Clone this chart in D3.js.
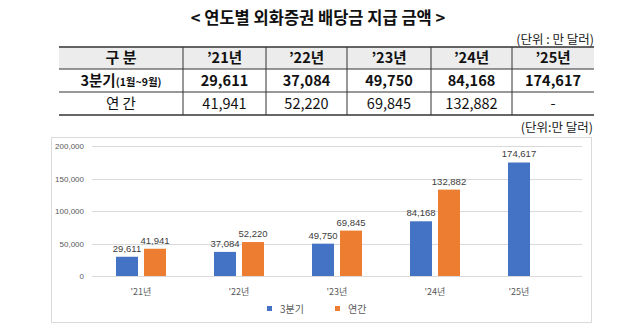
<!DOCTYPE html>
<html><head><meta charset="utf-8">
<script src="https://cdn.jsdelivr.net/npm/d3@7"></script>
<style>
html,body{margin:0;padding:0;background:#fff;}
svg{display:block;font-family:"Noto Sans CJK KR","Noto Sans",sans-serif;}
</style></head>
<body>
<script>
const title = "< 연도별 외화증권 배당금 지급 금액 >";
const unitTable = "(단위 : 만 달러)";
const unitChart = "(단위:만 달러)";
const tableHeader = ["구 분", "’21년", "’22년", "’23년", "’24년", "’25년"];
const categories = ["'21년", "'22년", "'23년", "'24년", "'25년"];
const seriesNames = ["3분기", "연간"];
const q3Values = [29611, 37084, 49750, 84168, 174617];
const annualValues = [41941, 52220, 69845, 132882, null];
const yTicks = [0, 50000, 100000, 150000, 200000];
const colors = ["#4472C4", "#ED7D31"];

const W = 640, H = 332;
const svg = d3.select("body").append("svg").attr("width", W).attr("height", H);
const fmt = d3.format(",");

// Title
svg.append("text").attr("x", 318).attr("y", 24).attr("text-anchor", "middle")
  .attr("font-size", 16.5).attr("font-weight", "bold").attr("fill", "#111").text(title);
svg.append("text").attr("x", 594).attr("y", 44).attr("text-anchor", "end")
  .attr("font-size", 12.5).attr("fill", "#222").text(unitTable);

// Table
const colX = [59, 183, 266, 347, 431, 512, 594];
const rowY = [47, 69, 92, 115];
const tbl = svg.append("g");
tbl.append("rect").attr("x", colX[0]).attr("y", rowY[0]).attr("width", colX[6]-colX[0])
  .attr("height", rowY[1]-rowY[0]).attr("fill", "#ececec");
rowY.forEach((y, i) => {
  tbl.append("line").attr("x1", colX[0]).attr("x2", colX[6]).attr("y1", y).attr("y2", y)
    .attr("stroke", "#333").attr("stroke-width", (i === 0 || i === 3) ? 1.6 : 1);
});
colX.slice(1, 6).forEach(x => {
  tbl.append("line").attr("x1", x).attr("x2", x).attr("y1", rowY[0]).attr("y2", rowY[3])
    .attr("stroke", "#333").attr("stroke-width", 1);
});
const cx = i => (colX[i] + colX[i+1]) / 2;
const cy = r => (rowY[r] + rowY[r+1]) / 2 + 5;
tableHeader.forEach((t, i) => {
  tbl.append("text").attr("x", cx(i)).attr("y", cy(0)).attr("text-anchor", "middle")
    .attr("font-size", i === 0 ? 15 : 14.5).attr("font-weight", "bold").attr("fill", "#111").text(t);
});
const r1 = tbl.append("text").attr("x", cx(0)).attr("y", cy(1)).attr("text-anchor", "middle")
  .attr("font-weight", "bold").attr("fill", "#111");
r1.append("tspan").attr("font-size", 14.5).text("3분기");
r1.append("tspan").attr("font-size", 10.5).text("(1월~9월)");
tbl.append("text").attr("x", cx(0)).attr("y", cy(2)).attr("text-anchor", "middle")
  .attr("font-size", 14.5).attr("fill", "#111").text("연 간");
q3Values.forEach((v, i) => {
  tbl.append("text").attr("x", cx(i+1)).attr("y", cy(1)).attr("text-anchor", "middle")
    .attr("font-size", 14.5).attr("font-weight", "bold").attr("fill", "#111").text(fmt(v));
});
annualValues.forEach((v, i) => {
  tbl.append("text").attr("x", cx(i+1)).attr("y", cy(2)).attr("text-anchor", "middle")
    .attr("font-size", 14.5).attr("fill", "#111").text(v == null ? "-" : fmt(v));
});

svg.append("text").attr("x", 593).attr("y", 132).attr("text-anchor", "end")
  .attr("font-size", 12.5).attr("fill", "#222").text(unitChart);

// Chart box
svg.append("rect").attr("x", 51.5).attr("y", 137.5).attr("width", 540).attr("height", 185)
  .attr("fill", "#fff").attr("stroke", "#d9d9d9");

const x = d3.scaleBand().domain(categories).range([92, 582]);
const xs = d3.scaleBand().domain(seriesNames).range([0, x.bandwidth()]).paddingInner(0.214).paddingOuter(0.857);
const y = d3.scaleLinear().domain([0, 200000]).range([276, 146]);

const grid = svg.append("g");
yTicks.forEach(t => {
  grid.append("line").attr("x1", 92).attr("x2", 582).attr("y1", Math.round(y(t))+0.5).attr("y2", Math.round(y(t))+0.5)
    .attr("stroke", "#d9d9d9").attr("stroke-width", 1);
  grid.append("text").attr("x", 84).attr("y", y(t) + 3).attr("text-anchor", "end")
    .attr("font-size", 8).attr("fill", "#595959").attr("font-family", "Liberation Sans, Arial, sans-serif")
    .text(fmt(t));
});

const data = categories.map((c, i) => ({cat: c, vals: [q3Values[i], annualValues[i]]}));
data.forEach(d => {
  const present = d.vals.map((v, k) => ({v, k})).filter(o => o.v != null);
  present.forEach(o => {
    const bx = x(d.cat) + xs(seriesNames[o.k]);
    svg.append("rect").attr("x", bx).attr("y", y(o.v)).attr("width", xs.bandwidth())
      .attr("height", y(0) - y(o.v)).attr("fill", colors[o.k]);
    svg.append("text").attr("x", bx + xs.bandwidth()/2).attr("y", y(o.v) - 5).attr("text-anchor", "middle")
      .attr("font-size", 9.5).attr("fill", "#404040").attr("font-family", "Liberation Sans, Arial, sans-serif")
      .text(fmt(o.v));
  });
  let lx;
  if (present.length === 1) {
    lx = x(d.cat) + xs(seriesNames[present[0].k]) + xs.bandwidth()/2;
  } else {
    lx = x(d.cat) + x.bandwidth()/2;
  }
  svg.append("text").attr("x", lx).attr("y", 295).attr("text-anchor", "middle")
    .attr("font-size", 9).attr("fill", "#595959").text(d.cat);
});

// Legend
const leg = [{name: seriesNames[0], x: 267}, {name: seriesNames[1], x: 335}];
leg.forEach((l, i) => {
  svg.append("rect").attr("x", l.x).attr("y", 306).attr("width", 5).attr("height", 5).attr("fill", colors[i]);
  svg.append("text").attr("x", l.x + 13).attr("y", 312.5).attr("font-size", 10).attr("fill", "#595959").text(l.name);
});
</script>
</body></html>
